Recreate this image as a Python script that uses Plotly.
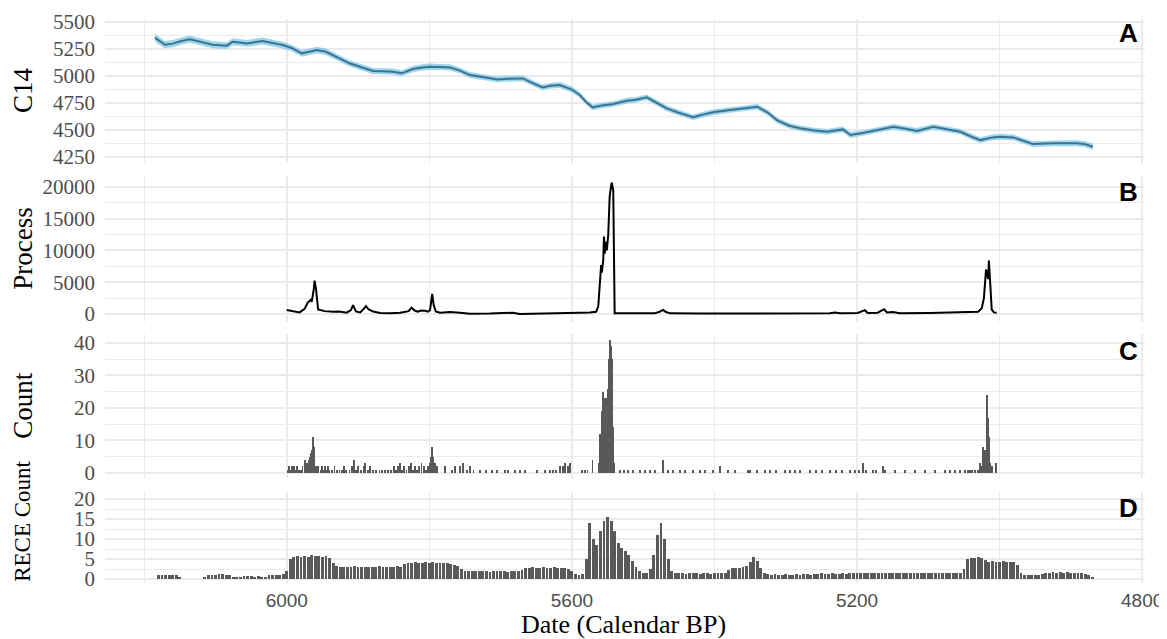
import numpy as np
import plotly.graph_objects as go
from plotly.subplots import make_subplots

# Panel A: calibration curve (cal BP vs C14 age)
c14_bp = [6185, 6178, 6171, 6160, 6148, 6136, 6120, 6104, 6084, 6076, 6066, 6056,
          6034, 6020, 6006, 5993, 5979, 5968, 5958, 5945, 5935, 5912, 5890, 5879,
          5865, 5851, 5839, 5823, 5810, 5799, 5785, 5771, 5757, 5743, 5725, 5705,
          5690, 5669, 5655, 5641, 5630, 5617, 5600, 5589, 5580, 5571, 5560, 5542,
          5523, 5510, 5495, 5480, 5467, 5450, 5430, 5415, 5402, 5378, 5360, 5340,
          5325, 5312, 5295, 5280, 5260, 5242, 5220, 5209, 5190, 5172, 5149, 5130,
          5116, 5093, 5075, 5055, 5040, 5027, 5010, 4999, 4981, 4965, 4953, 4925,
          4900, 4891, 4880, 4869]
c14_age = [5355, 5320, 5290, 5300, 5325, 5340, 5315, 5290, 5281, 5318, 5310, 5302,
           5324, 5305, 5287, 5260, 5210, 5225, 5241, 5225, 5194, 5118, 5070, 5046,
           5045, 5040, 5025, 5065, 5080, 5086, 5083, 5080, 5050, 5009, 4990, 4969,
           4975, 4978, 4935, 4895, 4910, 4917, 4875, 4824, 4760, 4710, 4725, 4741,
           4771, 4780, 4803, 4750, 4701, 4660, 4618, 4645, 4664, 4685, 4700, 4716,
           4660, 4590, 4540, 4516, 4495, 4484, 4506, 4454, 4475, 4500, 4531, 4510,
           4491, 4531, 4510, 4484, 4440, 4407, 4432, 4438, 4432, 4395, 4370, 4377,
           4380, 4377, 4368, 4346]
c14_err = [36, 35, 34, 33, 32, 32, 33, 32, 31, 32, 32, 31,
           32, 31, 31, 30, 31, 30, 31, 30, 30, 29, 29, 29,
           28, 29, 28, 29, 28, 29, 28, 28, 27, 28, 27, 27,
           28, 27, 27, 27, 26, 27, 27, 26, 26, 27, 26, 26,
           27, 26, 26, 27, 26, 26, 27, 26, 26, 26, 27, 26,
           26, 27, 26, 26, 27, 26, 26, 27, 26, 27, 26, 26,
           27, 26, 27, 26, 27, 27, 26, 27, 26, 27, 27, 27,
           27, 28, 28, 29]

# Panel B: summed process
proc_bp = [6000, 5992, 5982, 5975, 5971, 5966, 5965, 5962, 5961, 5959, 5956, 5947,
           5935, 5926, 5916, 5910, 5907, 5903, 5897, 5892, 5889, 5885, 5879, 5869,
           5855, 5841, 5834, 5829, 5825, 5820, 5816, 5812, 5806, 5802, 5799, 5796,
           5794, 5791, 5785, 5771, 5757, 5743, 5715, 5694, 5683, 5673, 5652, 5631,
           5610, 5589, 5575, 5566, 5563, 5561, 5559, 5558, 5556, 5555, 5554, 5552,
           5551, 5549, 5548, 5547, 5545, 5544, 5542, 5541, 5540, 5533, 5505, 5484,
           5477, 5472, 5468, 5462, 5420, 5364, 5308, 5238, 5231, 5224, 5199, 5189,
           5185, 5171, 5162, 5158, 5150, 5140, 5098, 5055, 5030, 5025, 5022, 5019,
           5018, 5016, 5015, 5013, 5011, 5008, 5004]
proc_val = [630, 450, 250, 800, 1700, 2300, 1900, 4000, 5250, 4000, 700, 450,
            350, 400, 200, 600, 1400, 400, 250, 800, 1250, 700, 400, 150,
            100, 200, 300, 450, 1000, 500, 350, 550, 500, 350, 600, 3150,
            1500, 400, 200, 300, 200, 50, 60, 120, 200, 0, 80, 120,
            180, 200, 250, 350, 1200, 5000, 7700, 6500, 8500, 12200, 9500, 11400,
            10000, 12500, 15900, 18500, 20200, 20700, 19500, 10000, 100, 100, 120, 100,
            350, 650, 300, 100, 80, 50, 80, 100, 250, 100, 150, 600,
            150, 200, 750, 250, 300, 100, 150, 250, 350, 900, 2500, 7000,
            6500, 5500, 8400, 4000, 700, 250, 200]

# Panel C: yearly counts
count_bp = [5999, 5997, 5995, 5993, 5991, 5990, 5988, 5986, 5984, 5982, 5980, 5978,
            5975, 5972, 5969, 5968, 5966, 5965, 5963, 5962, 5961, 5959, 5956, 5952,
            5950, 5948, 5946, 5944, 5942, 5940,
            5936, 5933, 5930, 5926, 5922, 5920, 5917, 5912, 5909, 5906, 5903, 5900,
            5896, 5892, 5890, 5886, 5883, 5879, 5875, 5870, 5866,
            5862, 5858, 5854, 5850, 5847, 5844, 5841, 5838, 5835, 5832, 5829, 5826,
            5823, 5820, 5817, 5814, 5811, 5808, 5805, 5802, 5799, 5798, 5796, 5795,
            5792, 5789,
            5778, 5768, 5764, 5757, 5753, 5747, 5743, 5738, 5729, 5721, 5712, 5705,
            5694, 5690, 5680, 5673,
            5666, 5649, 5638, 5631, 5627, 5622, 5617, 5613, 5610, 5606, 5603,
            5586, 5582, 5578, 5571,
            5562, 5561, 5560, 5559, 5558, 5557, 5556, 5555, 5554, 5553, 5552, 5551,
            5550, 5549, 5548, 5547, 5546, 5545, 5544, 5543, 5542, 5541,
            5533, 5527, 5521, 5514, 5505, 5498, 5491, 5484, 5472, 5465, 5458, 5448,
            5441, 5430, 5420, 5413, 5402, 5392, 5381, 5371, 5353, 5350, 5340, 5329,
            5322, 5314, 5301, 5294, 5287, 5280, 5266, 5258, 5249, 5238, 5229, 5221,
            5210, 5203, 5197, 5192, 5187, 5178, 5173, 5164, 5161, 5147, 5133, 5119,
            5105, 5091, 5077, 5070, 5063, 5055, 5048, 5044, 5041, 5039, 5034, 5030,
            5027, 5025, 5023, 5022, 5020, 5019, 5018, 5016, 5015, 5013, 5011, 5005]
count_n = [1, 2, 1, 2, 1, 2, 1, 2, 1, 1, 1, 2,
           4, 3, 4, 5, 6, 7, 11, 8, 5, 2, 2, 1,
           2, 1, 2, 1, 2, 1,
           1, 2, 1, 1, 1, 2, 1, 1, 2, 4, 1, 2,
           1, 2, 3, 1, 2, 1, 1, 1, 1,
           1, 1, 1, 2, 1, 2, 3, 1, 2, 1, 2, 3,
           1, 2, 1, 2, 3, 2, 1, 2, 3, 5, 8, 5,
           3, 2,
           2, 1, 2, 2, 3, 1, 2, 1, 1, 1, 1, 1,
           1, 1, 1, 1,
           1, 1, 1, 1, 1, 1, 2, 2, 3, 2, 3,
           1, 1, 1, 4,
           3, 10, 12, 12, 19, 25, 25, 20, 11, 23, 23, 17,
           26, 26, 35, 41, 40, 39, 35, 20, 14, 3,
           1, 1, 1, 1, 1, 1, 1, 1, 4, 1, 1, 1,
           1, 1, 1, 1, 1, 2, 1, 1, 1, 1, 1, 1,
           1, 1, 1, 1, 1, 1, 1, 1, 1, 1, 1, 1,
           1, 1, 1, 3, 1, 1, 1, 2, 1, 1, 1, 1,
           1, 1, 1, 1, 1, 1, 1, 1, 1, 1, 1, 1,
           3, 2, 8, 6, 7, 5, 24, 17, 11, 3, 2, 3]

# Panel D: RECE counts, 5-year bins from 6180 to 4870 BP
rece_bp = list(range(6180, 4865, -5))
rece_n = [1.0, 1.1, 1.0, 1.1, 1.0, 0.9, 0.3, 0, 0, 0,
          0, 0, 0, 0.6, 1.0, 1.1, 1.0, 1.2, 1.3, 1.1,
          1.0, 0.6, 0.3, 0.5, 0.8, 0.7, 0.8, 0.6, 0.7, 0.3,
          0.4, 1.0, 1.1, 1.0, 1.1, 1.3, 2.0, 5.0, 5.6, 5.7,
          5.5, 5.8, 5.6, 5.9, 5.7, 5.8, 5.6, 5.7, 5.2, 4.0,
          3.2, 3.0, 3.1, 2.9, 3.0, 3.2, 3.0, 3.1, 2.9, 3.0,
          3.1, 3.0, 3.2, 3.0, 2.9, 3.1, 3.0, 3.2, 3.1, 3.8,
          4.1, 4.0, 4.2, 4.0, 4.1, 4.3, 4.0, 4.2, 4.0, 4.1,
          3.9, 4.0, 3.8, 3.6, 3.2, 2.4, 2.0, 2.1, 1.9, 2.0,
          2.1, 1.9, 2.0, 1.8, 2.0, 2.1, 1.9, 2.0, 1.8, 2.0,
          2.1, 2.0, 2.2, 2.7, 2.8, 2.9, 2.7, 2.8, 2.9, 2.8,
          2.7, 2.9, 2.8, 2.7, 2.8, 2.6, 2.0, 1.2, 1.0, 1.2,
          5.0, 14.0, 10.0, 8.5, 12.0, 14.5, 15.6, 14.5, 12.0, 9.0,
          7.8, 7.0, 6.0, 4.5, 3.0, 2.0, 1.6, 1.5, 2.5, 6.0,
          11.0, 14.0, 10.0, 5.0, 2.0, 1.5, 1.4, 1.5, 1.3, 1.5,
          1.4, 1.5, 1.3, 1.4, 1.5, 1.3, 1.5, 1.4, 1.5, 1.6,
          2.2, 2.7, 2.8, 2.7, 2.9, 3.3, 4.2, 5.6, 4.5, 2.8,
          1.6, 1.2, 1.1, 1.2, 1.0, 1.1, 1.2, 1.1, 1.0, 1.2,
          1.1, 1.3, 1.2, 1.1, 1.3, 1.2, 1.4, 1.3, 1.2, 1.4,
          1.3, 1.2, 1.4, 1.3, 1.4, 1.5, 1.6, 1.5, 1.6, 1.4,
          1.6, 1.5, 1.4, 1.6, 1.5, 1.6, 1.5, 1.4, 1.5, 1.6,
          1.5, 1.4, 1.6, 1.5, 1.4, 1.5, 1.6, 1.5, 1.4, 1.5,
          1.6, 1.5, 1.4, 1.5, 1.4, 1.5, 2.5, 5.0, 5.3, 5.2,
          5.4, 5.2, 4.8, 4.3, 4.4, 4.3, 4.2, 4.4, 4.3, 4.2,
          4.3, 3.5, 1.5, 1.0, 1.0, 1.1, 1.0, 1.1, 1.2, 1.4,
          1.6, 1.7, 1.6, 1.7, 1.6, 1.7, 1.6, 1.5, 1.6, 1.5,
          1.3, 1.0, 0.5]

x_major = [6000, 5600, 5200, 4800]
x_minor = [6200, 5800, 5400, 5000]

GRID = "#ebebeb"
BAR = "#595959"
TICKFONT = dict(family="Liberation Serif", size=21, color="#4d4d4d")

fig = make_subplots(rows=4, cols=1, shared_xaxes=True, vertical_spacing=0.02)

# A: ribbon + line
c14 = np.array(c14_age)
err = np.array(c14_err)
fig.add_trace(go.Scatter(x=c14_bp, y=c14 + err, mode="lines", line=dict(width=0),
                         showlegend=False, hoverinfo="skip"), row=1, col=1)
fig.add_trace(go.Scatter(x=c14_bp, y=c14 - err, mode="lines", line=dict(width=0),
                         fill="tonexty", fillcolor="rgba(125,200,232,0.75)",
                         showlegend=False, hoverinfo="skip"), row=1, col=1)
fig.add_trace(go.Scatter(x=c14_bp, y=c14_age, mode="lines",
                         line=dict(color="#3c7390", width=2), showlegend=False),
              row=1, col=1)

# B: process line
fig.add_trace(go.Scatter(x=proc_bp, y=proc_val, mode="lines",
                         line=dict(color="black", width=2), showlegend=False),
              row=2, col=1)

# C: counts
fig.add_trace(go.Bar(x=count_bp, y=count_n, width=1.2, marker_color=BAR,
                     marker_line_width=0, showlegend=False), row=3, col=1)

# D: RECE counts
fig.add_trace(go.Bar(x=rece_bp, y=rece_n, width=4.0, marker_color=BAR,
                     marker_line_width=0, showlegend=False), row=4, col=1)

# y axes
yspecs = [
    ([0.7447, 1.0], [4195, 5528], [4250, 4500, 4750, 5000, 5250, 5500],
     [4375, 4625, 4875, 5125, 5375]),
    ([0.4628, 0.7216], [-1260, 21732], [0, 5000, 10000, 15000, 20000],
     [2500, 7500, 12500, 17500]),
    ([0.1862, 0.4415], [-1.54, 42.77], [0, 10, 20, 30, 40], [5, 15, 25, 35]),
    ([0.0, 0.1613], [-1.0, 21.75], [0, 5, 10, 15, 20], [2.5, 7.5, 12.5, 17.5]),
]
for i, (dom, rng, tv, mv) in enumerate(yspecs, start=1):
    name = "yaxis" if i == 1 else f"yaxis{i}"
    fig.layout[name].update(
        domain=dom, range=rng, tickvals=tv, tickformat="d", ticks="",
        showline=False, zeroline=False, showgrid=True, gridcolor=GRID,
        gridwidth=2, tickfont=TICKFONT, ticklabelstandoff=9, automargin=False,
        minor=dict(tickvals=mv, showgrid=True, gridcolor=GRID, gridwidth=1))
    xname = "xaxis" if i == 1 else f"xaxis{i}"
    fig.layout[xname].update(
        range=[6255, 4796], tickvals=x_major, ticks="", showline=False,
        zeroline=False, showgrid=True, gridcolor=GRID, gridwidth=2,
        showticklabels=(i == 4), ticklabelstandoff=4, automargin=False,
        tickfont=dict(family="Liberation Sans", size=19, color="#4d4d4d"),
        minor=dict(tickvals=x_minor, showgrid=True, gridcolor=GRID, gridwidth=1))

# axis titles and panel letters
titles = [("C14", 0.874, 27), ("Process", 0.594, 27), ("Count", 0.3156, 27),
          ("RECE Count", 0.110, 23)]
for txt, yy, sz in titles:
    fig.add_annotation(text=txt, xref="paper", yref="paper", x=-0.079, y=yy,
                       textangle=-90, showarrow=False, xanchor="center",
                       yanchor="middle",
                       font=dict(family="Liberation Serif", size=sz, color="black"))

fig.add_annotation(text="Date (Calendar BP)", xref="paper", yref="paper",
                   x=0.499, y=-0.074, showarrow=False, xanchor="center",
                   yanchor="middle",
                   font=dict(family="Liberation Serif", size=26, color="black"))

for letter, yy in [("A", 0.975), ("B", 0.693), ("C", 0.411), ("D", 0.133)]:
    fig.add_annotation(text=f"<b>{letter}</b>", xref="paper", yref="paper",
                       x=0.984, y=yy, showarrow=False, xanchor="center",
                       yanchor="middle",
                       font=dict(family="Liberation Sans", size=26, color="black"))

# the page body adds an 8px offset; size the figure so it reaches the window edges
fig.update_layout(
    width=1159, height=631,
    margin=dict(l=97, r=22, t=11, b=56),
    plot_bgcolor="white", paper_bgcolor="white",
    font=dict(family="Liberation Serif"),
    bargap=0, showlegend=False,
)

fig.write_html("out.html")
